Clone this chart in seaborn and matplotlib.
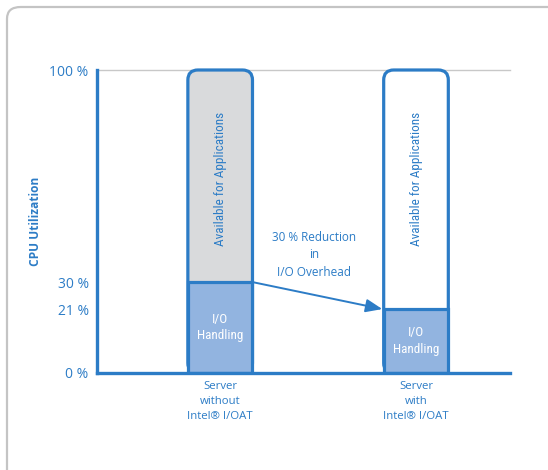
import matplotlib
matplotlib.use("Agg")
import matplotlib.pyplot as plt
from matplotlib.patches import FancyBboxPatch
from matplotlib import font_manager
import seaborn as sns

# ---- data ----
servers = ["Server\nwithout\nIntel® I/OAT", "Server\nwith\nIntel® I/OAT"]
total_util = [100, 100]
io_handling = [30, 21]
y_ticks = [0, 21, 30, 100]
y_tick_labels = ["0 %", "21 %", "30 %", "100 %"]
avail_label = "Available for Applications"
io_label = "I/O\nHandling"
annot_text = "30 % Reduction\nin\nI/O Overhead"
y_label = "CPU Utilization"

BLUE = "#2C7CC6"
GRAY = "#D9DADC"
IOFILL = "#92B4E0"
WHITE = "#FFFFFF"

sns.set_style("white")
plt.rcParams["font.family"] = ["Open Sans", "DejaVu Sans"]

# pick a condensed face for the in-bar labels if one is installed
fonts = font_manager.fontManager.ttflist
names = {f.name for f in fonts}
narrow_kw = None
for cand in ["Liberation Sans Narrow", "Roboto Condensed", "Open Sans Condensed",
             "Noto Sans Condensed", "Arial Narrow"]:
    if cand in names:
        narrow_kw = dict(family=[cand, "DejaVu Sans"], fontsize=9.5)
        break
if narrow_kw is None:
    cond = [f for f in fonts if f.name == "DejaVu Sans" and f.stretch in ("condensed", 300)]
    if cond:
        narrow_kw = dict(family=["DejaVu Sans"], fontstretch="condensed", fontsize=8.5)
    else:
        narrow_kw = dict(family=["Roboto", "DejaVu Sans"], fontsize=8.8)

fig = plt.figure(figsize=(5.48, 4.70), dpi=100)
ax = fig.add_axes([97 / 548, (470 - 373) / 470, (510 - 97) / 548, (373 - 70) / 470])

# outer frame
frame = FancyBboxPatch((7 / 548, -0.2), 1.3, 1.2 - 7 / 470,
                       boxstyle="round,pad=0,rounding_size=0.025",
                       transform=fig.transFigure, fc="none", ec="#C4C4C4",
                       lw=1.6, clip_on=False)
fig.patches.append(frame)

sns.barplot(x=servers, y=total_util, hue=servers, palette=[GRAY, WHITE],
            legend=False, width=0.33, edgecolor=BLUE, linewidth=2.3, ax=ax)
sns.barplot(x=servers, y=io_handling, color=IOFILL, width=0.33,
            edgecolor=BLUE, linewidth=2.3, ax=ax, saturation=1)

ax.set_xlim(-0.629, 1.48)
ax.set_ylim(0, 100)

# round the tops of the full bars
bbox = ax.get_position()
ax_w_px = bbox.width * fig.get_figwidth() * fig.dpi
ax_h_px = bbox.height * fig.get_figheight() * fig.dpi
xpp = (ax.get_xlim()[1] - ax.get_xlim()[0]) / ax_w_px
ypp = (ax.get_ylim()[1] - ax.get_ylim()[0]) / ax_h_px
full_bars = [p for p in ax.patches if abs(p.get_height() - 100) < 1e-6]
for p in full_bars:
    x, y, w, h = p.get_x(), p.get_y(), p.get_width(), p.get_height()
    rp = FancyBboxPatch((x, y), w, h,
                        boxstyle=f"round,pad=0,rounding_size={10 * xpp}",
                        mutation_aspect=ypp / xpp,
                        fc=p.get_facecolor(), ec=BLUE, lw=2.3, zorder=0.9,
                        clip_on=False)
    p.remove()
    ax.add_patch(rp)

# spines
ax.spines["right"].set_visible(False)
ax.spines["top"].set_color("#C8C8C8")
ax.spines["top"].set_linewidth(1.0)
ax.spines["top"].set_zorder(0.5)
for s in ["left", "bottom"]:
    ax.spines[s].set_color(BLUE)
    ax.spines[s].set_linewidth(2.4)

ax.set_yticks(y_ticks)
ax.set_yticklabels(y_tick_labels)
ax.tick_params(axis="both", length=0, colors=BLUE)
ax.tick_params(axis="y", pad=6, labelsize=10)
ax.tick_params(axis="x", pad=6, labelsize=8.2)
for t in ax.get_xticklabels():
    t.set_linespacing(1.5)
ax.set_ylabel(y_label, color=BLUE, fontsize=8.6, fontweight="bold", labelpad=5)

# in-bar texts
for i in range(len(servers)):
    ax.text(i, 64, avail_label, rotation=90, ha="center", va="center",
            color=BLUE, **narrow_kw)
    ax.text(i, io_handling[i] / 2, io_label, ha="center", va="center",
            color="white", linespacing=1.35, **narrow_kw)

# annotation arrow
bw = 0.33
ax.annotate("", xy=(1 - bw / 2, io_handling[1]), xytext=(0 + bw / 2, io_handling[0]),
            arrowprops=dict(arrowstyle="-|>,head_length=1.0,head_width=0.4",
                            color=BLUE, lw=1.4, shrinkA=0, shrinkB=1))
ax.text(0.48, 39, annot_text, ha="center", va="center", color=BLUE,
        fontsize=8.5, linespacing=1.45)

fig.savefig("out.png", dpi=100)
